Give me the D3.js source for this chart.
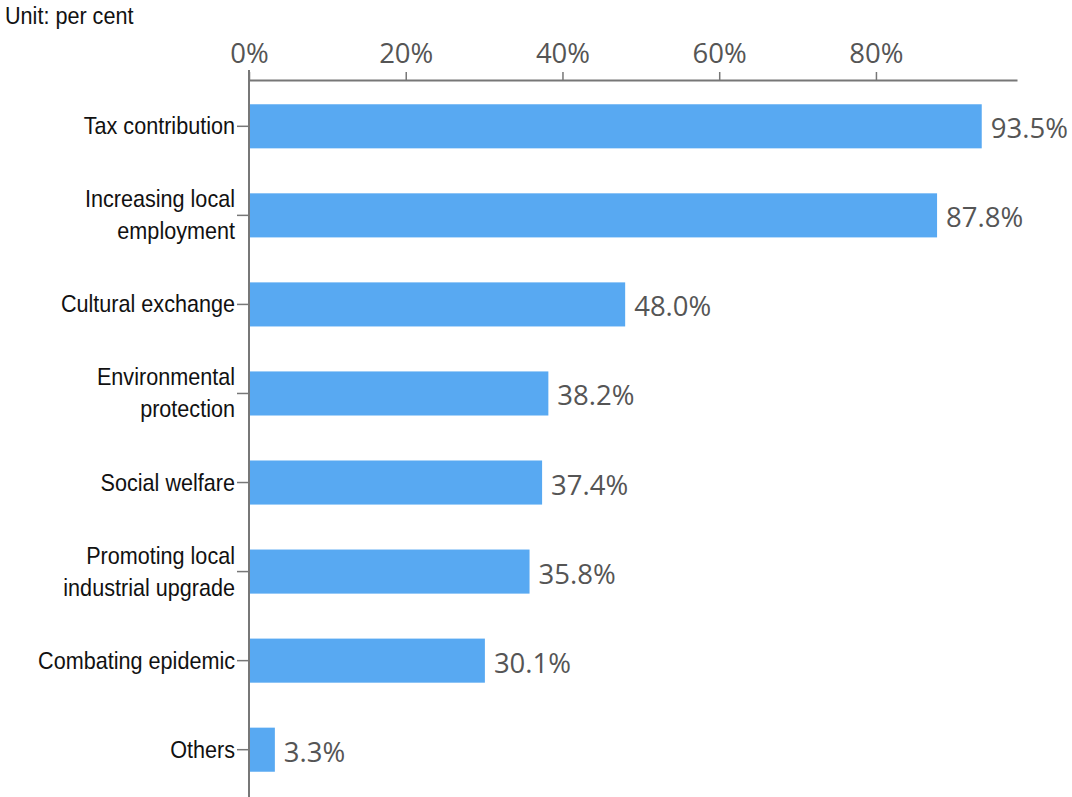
<!DOCTYPE html>
<html>
<head>
<meta charset="utf-8">
<script src="https://cdn.jsdelivr.net/npm/d3@7"></script>
<style>
  html, body { margin: 0; padding: 0; background: #fff; }
  svg { display: block; }
</style>
</head>
<body>
<svg id="chart" width="1072" height="797"></svg>
<script>
const categories = [
  ["Tax contribution"],
  ["Increasing local", "employment"],
  ["Cultural exchange"],
  ["Environmental", "protection"],
  ["Social welfare"],
  ["Promoting local", "industrial upgrade"],
  ["Combating epidemic"],
  ["Others"]
];
const values = [93.5, 87.8, 48.0, 38.2, 37.4, 35.8, 30.1, 3.3];
const tickValues = [0, 20, 40, 60, 80];
const unitLabel = "Unit: per cent";

const svg = d3.select("#chart");
const keys = categories.map(c => c.join(" "));

const x = d3.scaleLinear().domain([0, 98]).range([249, 1017]);
const y = d3.scaleBand().domain(keys).range([82, 794]).paddingInner(0.505).paddingOuter(0.25);

const labelFont = "Liberation Sans, Arial, sans-serif";
const numFont = "Open Sans, sans-serif";

svg.append("text")
  .attr("transform", "translate(5,24) scale(0.9,1)")
  .attr("font-family", labelFont)
  .attr("font-size", 24)
  .attr("fill", "#111")
  .text(unitLabel);

// bars
svg.append("g").selectAll("rect")
  .data(values)
  .join("rect")
  .attr("x", x(0))
  .attr("y", (d, i) => y(keys[i]))
  .attr("width", d => x(d) - x(0))
  .attr("height", y.bandwidth())
  .attr("fill", "#58a9f2");

// value labels
svg.append("g").selectAll("text")
  .data(values)
  .join("text")
  .attr("x", d => x(d) + 9)
  .attr("y", (d, i) => y(keys[i]) + y.bandwidth() / 2 + 12)
  .attr("font-family", numFont)
  .attr("font-size", 27.5)
  .attr("fill", "#555")
  .text(d => d.toFixed(1) + "%");

// top axis
const xAxis = d3.axisTop(x).tickValues(tickValues).tickFormat(d => d + "%").tickSize(8).tickSizeOuter(0);
const gx = svg.append("g").attr("transform", "translate(0,80)").call(xAxis);
gx.select(".domain").attr("stroke", "#777").attr("stroke-width", 2);
gx.selectAll(".tick line").attr("stroke", "#777").attr("stroke-width", 1.5);
gx.selectAll(".tick text")
  .attr("font-family", numFont)
  .attr("font-size", 27.5)
  .attr("fill", "#555")
  .attr("y", -17)
  .attr("dy", 0);

// left axis
const yAxis = d3.axisLeft(y).tickSize(12).tickSizeOuter(0).tickFormat("");
const gy = svg.append("g").attr("transform", "translate(249,0)").call(yAxis);
gy.select(".domain").remove();
gy.selectAll(".tick line").attr("stroke", "#777").attr("stroke-width", 1.5);
gy.append("line")
  .attr("x1", 0).attr("x2", 0)
  .attr("y1", 70).attr("y2", 797)
  .attr("stroke", "#777").attr("stroke-width", 2);

// category labels
const lineH = 32;
const lab = svg.append("g").selectAll("text")
  .data(categories)
  .join("text")
  .attr("text-anchor", "end")
  .attr("font-family", labelFont)
  .attr("font-size", 24)
  .attr("fill", "#111")
  .attr("transform", (d, i) => `translate(235,${y(keys[i]) + y.bandwidth() / 2}) scale(0.9,1)`);
lab.selectAll("tspan")
  .data(d => d.map((t, j) => ({ t, j, n: d.length })))
  .join("tspan")
  .attr("x", 0)
  .attr("y", d => (d.j - (d.n - 1) / 2) * lineH + 8)
  .text(d => d.t);
</script>
</body>
</html>
